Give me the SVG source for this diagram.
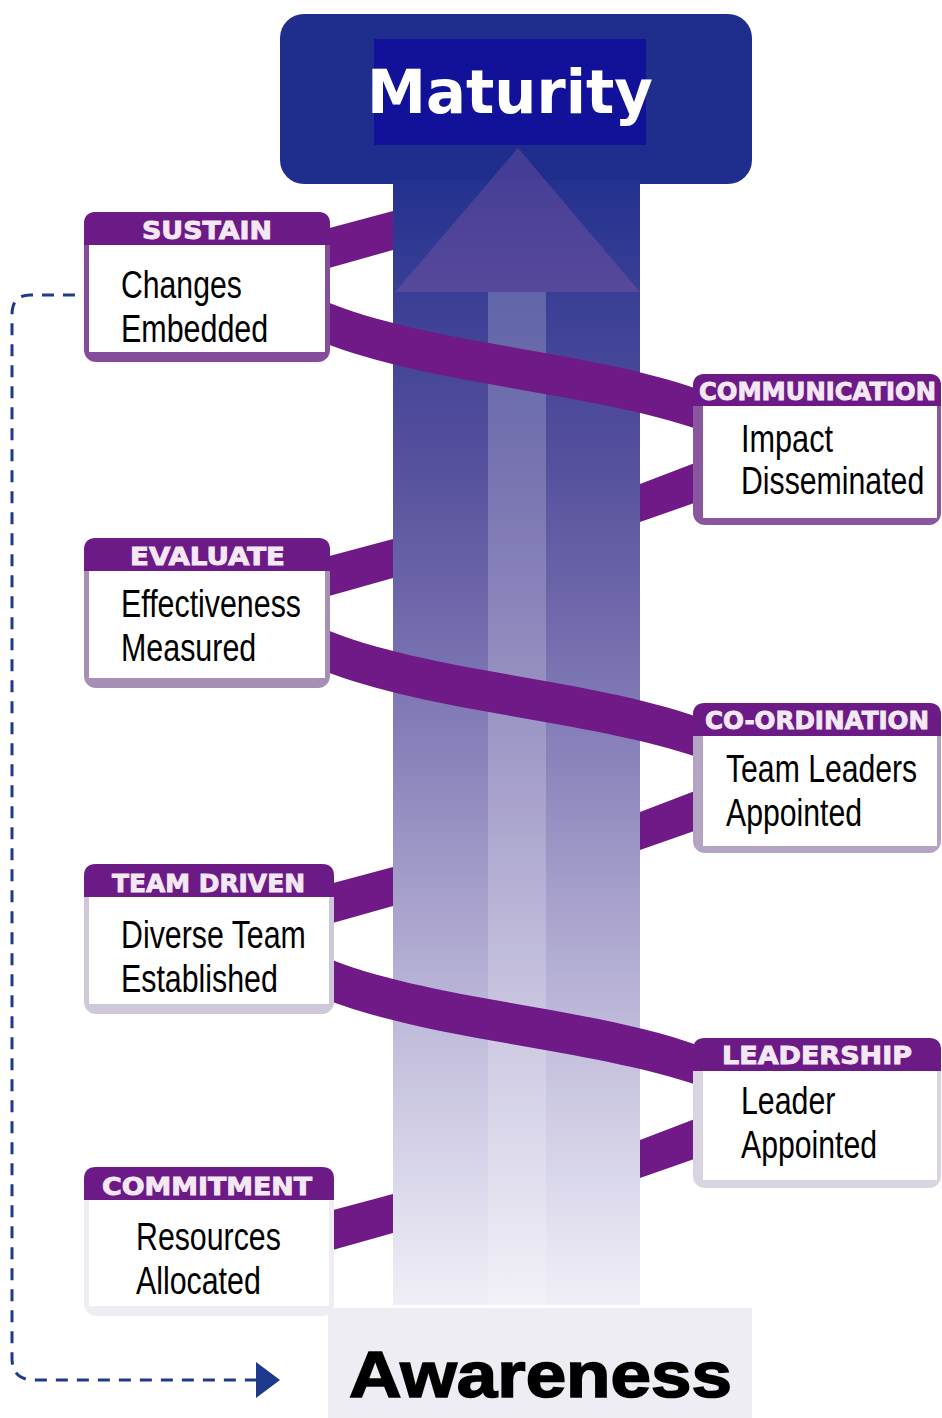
<svg xmlns="http://www.w3.org/2000/svg" width="942" height="1418" viewBox="0 0 942 1418">
<defs>
<linearGradient id="colGrad" x1="0" y1="184" x2="0" y2="1305" gradientUnits="userSpaceOnUse">
<stop offset="0" stop-color="#24328f"/>
<stop offset="0.10" stop-color="#3a3f95"/>
<stop offset="0.24" stop-color="#544f9c"/>
<stop offset="0.37" stop-color="#6d66aa"/>
<stop offset="0.51" stop-color="#8a83bb"/>
<stop offset="0.64" stop-color="#a7a1cc"/>
<stop offset="0.77" stop-color="#c3bfdd"/>
<stop offset="0.90" stop-color="#dcdaec"/>
<stop offset="1" stop-color="#f0eff7"/>
</linearGradient>
<marker id="arr" viewBox="0 0 24 36" refX="2" refY="18" markerWidth="24" markerHeight="36" markerUnits="userSpaceOnUse" orient="auto">
<polygon points="0,0 24,18 0,36" fill="#1f3a8c"/>
</marker>
<style>
.rib{fill:#6f1a87}
.hdr{fill:#6c1a86}
.inner{fill:#ffffff}
.ht{font-family:"DejaVu Sans",sans-serif;font-weight:bold;font-size:25px;fill:#f5e8f5;stroke:#f5e8f5;stroke-width:0.9}
.bt{font-family:"Liberation Sans",Arial,sans-serif;font-size:38px;fill:#000000}
</style>
</defs>

<!-- T top -->
<rect x="280" y="14" width="472" height="170" rx="24" fill="#1f2e8d"/>

<!-- column -->
<g id="column">
<rect x="393" y="180" width="247" height="1125" fill="url(#colGrad)"/>
<polygon points="518,148 395,292 640,292" fill="#9a5fa8" opacity="0.3"/>
<rect x="488" y="292" width="58" height="1013" fill="#ffffff" opacity="0.2"/>
</g>

<g id="maturity">
<rect x="374" y="39" width="272" height="106" fill="#11119a"/>
<text x="367" y="113" font-family="DejaVu Sans, sans-serif" font-weight="bold" font-size="61" fill="#ffffff" textLength="286" lengthAdjust="spacingAndGlyphs">Maturity</text>
</g>

<g id="awareness">
<rect x="328" y="1308" width="424" height="110" fill="#efedf4"/>
<text x="349" y="1397" font-family="Liberation Sans, Arial, sans-serif" font-weight="bold" font-size="64" fill="#000000" stroke="#000000" stroke-width="1.6" textLength="383" lengthAdjust="spacingAndGlyphs">Awareness</text>
</g>

<!-- ribbons -->
<g id="connectors">
<g id="ribbons-1">
<polygon class="rib" points="322,230 393,211 393,250 322,270"/>
<path class="rib" d="M322,300 C430,345 590,350 700,390 L700,430 C590,392 430,385 322,342 Z"/>
<polygon class="rib" points="640,484 700,461 700,501 640,522"/>
</g>
<g id="ribbons-2" transform="translate(0,328)">
<polygon class="rib" points="322,230 393,211 393,250 322,270"/>
<path class="rib" d="M322,300 C430,345 590,350 700,390 L700,430 C590,392 430,385 322,342 Z"/>
<polygon class="rib" points="640,484 700,461 700,501 640,522"/>
</g>
<g id="ribbons-3" transform="translate(0,656)">
<polygon class="rib" points="322,230 393,211 393,250 322,270"/>
<path class="rib" d="M322,300 C430,345 590,350 700,390 L700,430 C590,392 430,385 322,342 Z"/>
<polygon class="rib" points="640,484 700,461 700,501 640,522"/>
</g>
<g id="ribbons-4" transform="translate(0,983)">
<polygon class="rib" points="322,230 393,211 393,250 322,270"/>
</g>
<path d="M75,295 H30 Q12,295 12,315 V1358 Q12,1380 34,1380 H258" fill="none" stroke="#1f3a8c" stroke-width="3" stroke-dasharray="12 9" marker-end="url(#arr)"/>
</g>

<!-- left boxes -->
<g id="sustain">
<rect x="84" y="212" width="246" height="150" rx="12" fill="#864c9c"/>
<path class="hdr" d="M84,245 V224 Q84,212 96,212 H318 Q330,212 330,224 V245 Z"/>
<rect class="inner" x="89" y="245" width="236" height="107"/>
<text class="ht" x="142" y="239" textLength="130" lengthAdjust="spacingAndGlyphs">SUSTAIN</text>
<text class="bt" transform="translate(121,0) scale(0.8,1)" x="0" y="298" textLength="151" lengthAdjust="spacingAndGlyphs">Changes</text>
<text class="bt" transform="translate(121,0) scale(0.8,1)" x="0" y="342" textLength="184" lengthAdjust="spacingAndGlyphs">Embedded</text>
</g>

<g id="evaluate">
<rect x="84" y="538" width="246" height="150" rx="12" fill="#a58fb5"/>
<path class="hdr" d="M84,571 V550 Q84,538 96,538 H318 Q330,538 330,550 V571 Z"/>
<rect class="inner" x="89" y="571" width="236" height="107"/>
<text class="ht" x="130" y="565" textLength="155" lengthAdjust="spacingAndGlyphs">EVALUATE</text>
<text class="bt" transform="translate(121,0) scale(0.8,1)" x="0" y="617" textLength="225" lengthAdjust="spacingAndGlyphs">Effectiveness</text>
<text class="bt" transform="translate(121,0) scale(0.8,1)" x="0" y="661" textLength="169" lengthAdjust="spacingAndGlyphs">Measured</text>
</g>

<g id="team-driven">
<rect x="84" y="864" width="250" height="150" rx="12" fill="#cfc8da"/>
<path class="hdr" d="M84,897 V876 Q84,864 96,864 H322 Q334,864 334,876 V897 Z"/>
<rect class="inner" x="89" y="897" width="240" height="107"/>
<text class="ht" x="112" y="892" textLength="193" lengthAdjust="spacingAndGlyphs">TEAM DRIVEN</text>
<text class="bt" transform="translate(121,0) scale(0.8,1)" x="0" y="948" textLength="231" lengthAdjust="spacingAndGlyphs">Diverse Team</text>
<text class="bt" transform="translate(121,0) scale(0.8,1)" x="0" y="992" textLength="196" lengthAdjust="spacingAndGlyphs">Established</text>
</g>

<g id="commitment">
<rect x="84" y="1167" width="250" height="149" rx="12" fill="#efecf3"/>
<path class="hdr" d="M84,1200 V1179 Q84,1167 96,1167 H322 Q334,1167 334,1179 V1200 Z"/>
<rect class="inner" x="89" y="1200" width="240" height="106"/>
<text class="ht" x="102" y="1195" textLength="210" lengthAdjust="spacingAndGlyphs">COMMITMENT</text>
<text class="bt" transform="translate(136,0) scale(0.8,1)" x="0" y="1250" textLength="181" lengthAdjust="spacingAndGlyphs">Resources</text>
<text class="bt" transform="translate(136,0) scale(0.8,1)" x="0" y="1294" textLength="156" lengthAdjust="spacingAndGlyphs">Allocated</text>
</g>

<!-- right boxes -->
<g id="communication">
<rect x="693" y="374" width="248" height="151" rx="12" fill="#8a56a0"/>
<path class="hdr" d="M693,406 V386 Q693,374 705,374 H929 Q941,374 941,386 V406 Z"/>
<rect class="inner" x="703" y="406" width="234" height="112"/>
<text class="ht" x="699" y="400" textLength="237" lengthAdjust="spacingAndGlyphs">COMMUNICATION</text>
<text class="bt" transform="translate(741,0) scale(0.8,1)" x="0" y="452" textLength="115" lengthAdjust="spacingAndGlyphs">Impact</text>
<text class="bt" transform="translate(741,0) scale(0.8,1)" x="0" y="494" textLength="229" lengthAdjust="spacingAndGlyphs">Disseminated</text>
</g>

<g id="co-ordination">
<rect x="693" y="703" width="248" height="150" rx="12" fill="#b4a3c2"/>
<path class="hdr" d="M693,736 V715 Q693,703 705,703 H929 Q941,703 941,715 V736 Z"/>
<rect class="inner" x="703" y="736" width="234" height="110"/>
<text class="ht" x="705" y="729" textLength="224" lengthAdjust="spacingAndGlyphs">CO-ORDINATION</text>
<text class="bt" transform="translate(726,0) scale(0.8,1)" x="0" y="782" textLength="239" lengthAdjust="spacingAndGlyphs">Team Leaders</text>
<text class="bt" transform="translate(726,0) scale(0.8,1)" x="0" y="826" textLength="170" lengthAdjust="spacingAndGlyphs">Appointed</text>
</g>

<g id="leadership">
<rect x="693" y="1038" width="248" height="150" rx="12" fill="#dad4e2"/>
<path class="hdr" d="M693,1071 V1050 Q693,1038 705,1038 H929 Q941,1038 941,1050 V1071 Z"/>
<rect class="inner" x="703" y="1071" width="234" height="109"/>
<text class="ht" x="722" y="1064" textLength="190" lengthAdjust="spacingAndGlyphs">LEADERSHIP</text>
<text class="bt" transform="translate(741,0) scale(0.8,1)" x="0" y="1114" textLength="118" lengthAdjust="spacingAndGlyphs">Leader</text>
<text class="bt" transform="translate(741,0) scale(0.8,1)" x="0" y="1158" textLength="170" lengthAdjust="spacingAndGlyphs">Appointed</text>
</g>
</svg>
